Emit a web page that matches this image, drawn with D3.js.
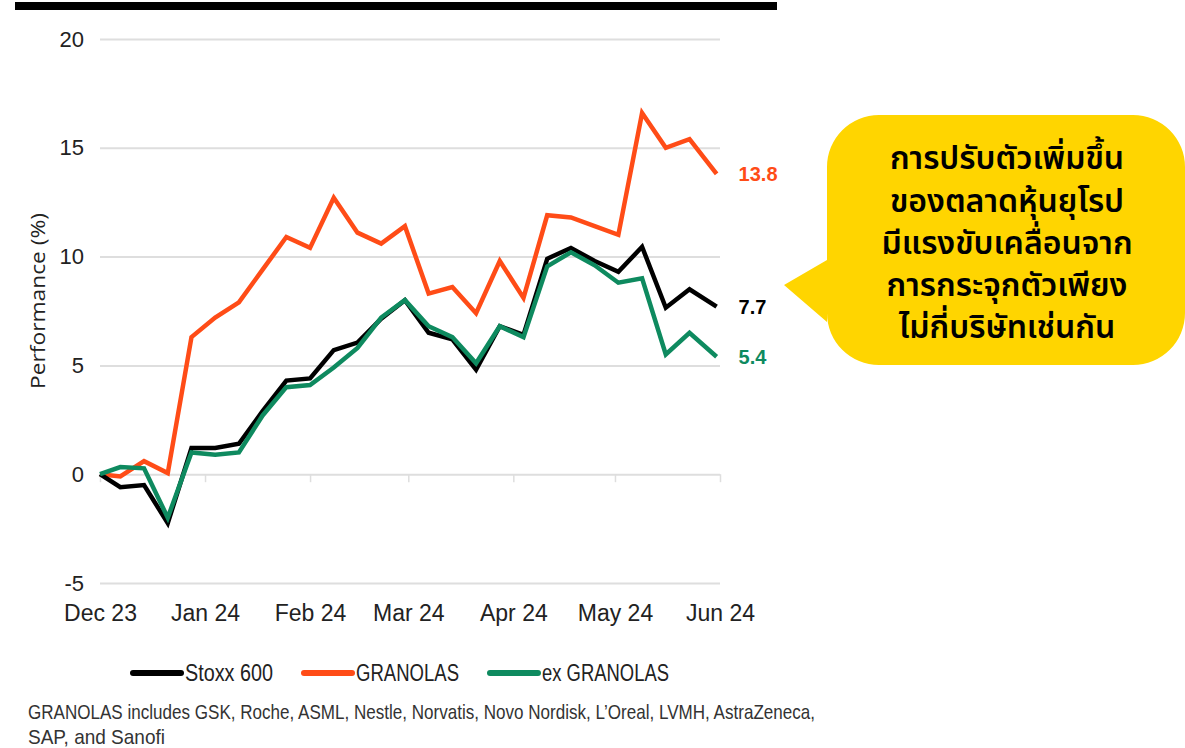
<!DOCTYPE html>
<html>
<head>
<meta charset="utf-8">
<script src="https://cdn.jsdelivr.net/npm/d3@7"></script>
<style>
  body { margin: 0; background: #fff; }
  svg { display: block; }
</style>
</head>
<body>
<div id="chart"></div>
<script>
// weekly observations
var dates = ["2023-12-01", "2023-12-07", "2023-12-14", "2023-12-21", "2023-12-28",
  "2024-01-04", "2024-01-11", "2024-01-18", "2024-01-25", "2024-02-01",
  "2024-02-08", "2024-02-15", "2024-02-22", "2024-02-29", "2024-03-07",
  "2024-03-14", "2024-03-21", "2024-03-28", "2024-04-04", "2024-04-11",
  "2024-04-18", "2024-04-25", "2024-05-02", "2024-05-09", "2024-05-16",
  "2024-05-23", "2024-05-31"];

var stoxx600 = [0, -0.6, -0.5, -2.25, 1.2, 1.2, 1.4, 2.9, 4.3, 4.4, 5.7, 6.05, 7.15, 8.0,
  6.5, 6.2, 4.8, 6.8, 6.4, 9.9, 10.4, 9.8, 9.3, 10.45, 7.65, 8.5, 7.7];
var granolas = [0, -0.1, 0.6, 0.05, 6.3, 7.2, 7.9, 9.4, 10.9, 10.4, 12.7, 11.1, 10.6, 11.4,
  8.3, 8.6, 7.4, 9.8, 8.1, 11.9, 11.8, 11.4, 11.0, 16.6, 15.0, 15.4, 13.8];
var exGranolas = [0, 0.33, 0.27, -2.0, 1.0, 0.9, 1.0, 2.7, 4.0, 4.1, 4.9, 5.8, 7.2, 8.0,
  6.8, 6.3, 5.1, 6.8, 6.3, 9.55, 10.2, 9.6, 8.8, 9.0, 5.5, 6.5, 5.4];

var seriesNames = ["Stoxx 600", "GRANOLAS", "ex GRANOLAS"];
var yTicks = [-5, 0, 5, 10, 15, 20];
var monthTicks = ["2023-12-01", "2024-01-01", "2024-02-01", "2024-03-01",
  "2024-04-01", "2024-05-01", "2024-06-01"];
var calloutLines = ["การปรับตัวเพิ่มขึ้น", "ของตลาดหุ้นยุโรป", "มีแรงขับเคลื่อนจาก",
  "การกระจุกตัวเพียง", "ไม่กี่บริษัทเช่นกัน"];
var footnote = ["GRANOLAS includes GSK, Roche, ASML, Nestle, Norvatis, Novo Nordisk, L\u2019Oreal, LVMH, AstraZeneca,",
  "SAP, and Sanofi"];

var colors = {"Stoxx 600": "#000000", "GRANOLAS": "#ff4c17", "ex GRANOLAS": "#0e8a5f"};

var width = 1185, height = 748;
var parse = d3.timeParse("%Y-%m-%d");
var fmt = d3.timeFormat("%b %y");
var axisFont = "'Liberation Sans', Arial, sans-serif";

var series = [
  {name: "Stoxx 600", values: stoxx600},
  {name: "GRANOLAS", values: granolas},
  {name: "ex GRANOLAS", values: exGranolas}
];

var svg = d3.select("#chart").append("svg")
    .attr("width", width)
    .attr("height", height);

// squeeze a text into a given width (condensed look)
function squeeze(sel, w) {
  sel.attr("textLength", w).attr("lengthAdjust", "spacingAndGlyphs");
}

// top rule
svg.append("rect")
    .attr("x", 15).attr("y", 2)
    .attr("width", 762).attr("height", 8)
    .attr("fill", "#000");

var x = d3.scaleTime()
    .domain([parse("2023-12-01"), parse("2024-06-01")])
    .range([100, 720]);
var y = d3.scaleLinear()
    .domain([-5, 20])
    .range([583, 39]);

// gridlines + y labels
var yAxis = svg.append("g")
    .attr("transform", "translate(100,0)")
    .call(d3.axisLeft(y).tickValues(yTicks).tickSize(-620).tickPadding(16)
      .tickFormat(function(d) { return String(d); }));
yAxis.select(".domain").remove();
yAxis.selectAll(".tick line").attr("stroke", "#dedede").attr("stroke-width", 2);
yAxis.selectAll(".tick text")
    .attr("fill", "#222")
    .style("font-family", axisFont)
    .style("font-size", "22px");

// x axis ticks under zero line
var xAxis = svg.append("g")
    .attr("transform", "translate(0," + y(0) + ")")
    .call(d3.axisBottom(x).tickValues(monthTicks.map(parse)).tickSize(8).tickFormat(""));
xAxis.select(".domain").remove();
xAxis.selectAll(".tick line").attr("stroke", "#dedede").attr("stroke-width", 1.5);

// month labels
svg.append("g")
    .attr("transform", "translate(0,583)")
    .call(d3.axisBottom(x).tickValues(monthTicks.map(parse)).tickSize(0).tickPadding(22).tickFormat(fmt))
  .call(function(g) { g.select(".domain").remove(); })
  .selectAll("text")
    .attr("fill", "#222")
    .style("font-family", axisFont)
    .style("font-size", "23px");

// y axis title
svg.append("text")
    .attr("transform", "translate(45,301) rotate(-90)")
    .attr("text-anchor", "middle")
    .attr("fill", "#222")
    .style("font-family", "'Open Sans', sans-serif")
    .style("font-size", "20px")
    .text("Performance (%)")
    .call(squeeze, 176);

var line = d3.line()
    .x(function(d, i) { return x(parse(dates[i])); })
    .y(function(d) { return y(d); });

var drawOrder = ["GRANOLAS", "Stoxx 600", "ex GRANOLAS"];
drawOrder.forEach(function(name) {
  var s = series.find(function(d) { return d.name === name; });
  svg.append("path")
      .datum(s.values)
      .attr("fill", "none")
      .attr("stroke", colors[name])
      .attr("stroke-width", 4.5)
      .attr("stroke-linejoin", "miter")
      .attr("d", line);
});

// end labels
series.forEach(function(s) {
  var last = s.values[s.values.length - 1];
  svg.append("text")
      .attr("x", x(parse(dates[dates.length - 1])) + 22)
      .attr("y", y(last))
      .attr("dy", "0.36em")
      .attr("fill", colors[s.name])
      .style("font-family", axisFont)
      .style("font-weight", "bold")
      .style("font-size", "20px")
      .text(d3.format(".1f")(last));
});

// legend
var legendX = [133, 304, 490];
var legendW = [88, 103, 127];
var legend = svg.append("g").attr("transform", "translate(0,673)");
seriesNames.forEach(function(name, i) {
  legend.append("line")
      .attr("x1", legendX[i]).attr("x2", legendX[i] + 48)
      .attr("y1", 0).attr("y2", 0)
      .attr("stroke", colors[name])
      .attr("stroke-width", 6)
      .attr("stroke-linecap", "round");
  legend.append("text")
      .attr("x", legendX[i] + 52)
      .attr("dy", "0.35em")
      .attr("fill", "#222")
      .style("font-family", axisFont)
      .style("font-size", "23px")
      .text(name)
      .call(squeeze, legendW[i]);
});

// footnote
var footW = [787, 137];
footnote.forEach(function(t, i) {
  svg.append("text")
      .attr("x", 28)
      .attr("y", 712 + i * 25)
      .attr("dy", "0.35em")
      .attr("fill", "#333")
      .style("font-family", axisFont)
      .style("font-size", "21px")
      .text(t)
      .call(squeeze, footW[i]);
});

// callout bubble
var bx = 827, by = 115, bw = 358, bh = 250, r = 52;
var p = d3.path();
p.moveTo(bx + r, by);
p.lineTo(bx + bw - r, by);
p.arcTo(bx + bw, by, bx + bw, by + r, r);
p.lineTo(bx + bw, by + bh - r);
p.arcTo(bx + bw, by + bh, bx + bw - r, by + bh, r);
p.lineTo(bx + r, by + bh);
p.arcTo(bx, by + bh, bx, by + bh - r, r);
p.lineTo(bx, 322);
p.lineTo(784, 285);
p.lineTo(bx, 260);
p.lineTo(bx, by + r);
p.arcTo(bx, by, bx + r, by, r);
p.closePath();
svg.append("path")
    .attr("d", p.toString())
    .attr("fill", "#ffd500");

calloutLines.forEach(function(t, i) {
  svg.append("text")
      .attr("x", 1007)
      .attr("y", 158 + i * 42.3)
      .attr("dy", "0.35em")
      .attr("text-anchor", "middle")
      .attr("fill", "#000")
      .style("font-family", "'Noto Sans Thai', 'Noto Sans', sans-serif")
      .style("font-weight", "600")
      .style("font-size", "32px")
      .text(t);
});
</script>
</body>
</html>
